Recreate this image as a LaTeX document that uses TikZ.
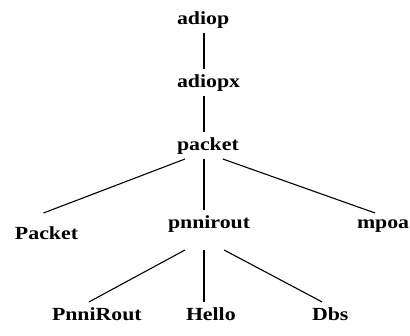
\documentclass[tikz,border=0pt]{standalone}
\usepackage{fontspec}
\newfontfamily\treefont[FakeStretch=1.18]{Liberation Serif}
\usetikzlibrary{calc}

\begin{document}
\begin{tikzpicture}[
  x=1pt,y=-1pt,
  cls/.style={font=\treefont\bfseries\fontsize{18.5}{20}\selectfont,anchor=base west,
    inner sep=0pt,outer xsep=0pt,outer ysep=5pt,text height=13pt,text depth=4pt},
  edge/.style={line width=1.1pt}
]
  \useasboundingbox (0,0) rectangle (410,335);
  \coordinate (spine) at (204,0);
  % class nodes
  \node[cls] (adiop) at (177,24) {adiop};
  \node[cls] (adiopx) at (177,87) {adiopx};
  \node[cls] (packet) at (177,150) {packet};
  \node[cls] (Packet) at (15,239) {Packet};
  \node[cls] (pnnirout) at (168,228) {pnnirout};
  \node[cls] (mpoa) at (357,228) {mpoa};
  \node[cls] (PnniRout) at (52,320) {PnniRout};
  \node[cls] (Hello) at (186,320) {Hello};
  \node[cls] (Dbs) at (312,320) {Dbs};
  % links
  \draw[edge] (adiop.south -| spine) -- (adiopx.north -| spine);
  \draw[edge] (adiopx.south -| spine) -- (packet.north -| spine);
  \draw[edge] ([xshift=8pt]packet.south west) -- ([xshift=-3pt,yshift=8pt]Packet.north);
  \draw[edge] (packet.south -| spine) -- (pnnirout.north -| spine);
  \draw[edge] ([xshift=-16pt]packet.south east) -- ([xshift=-8pt,yshift=-3pt]mpoa.north);
  \draw[edge] ([xshift=17pt,yshift=-13pt]pnnirout.south west) -- ([xshift=-8pt]PnniRout.north);
  \draw[edge] (pnnirout.south -| spine) ++(0,13) -- (Hello.north -| spine);
  \draw[edge] ([xshift=-26pt,yshift=-13pt]pnnirout.south east) -- ([xshift=-8pt]Dbs.north);
\end{tikzpicture}
\end{document}
